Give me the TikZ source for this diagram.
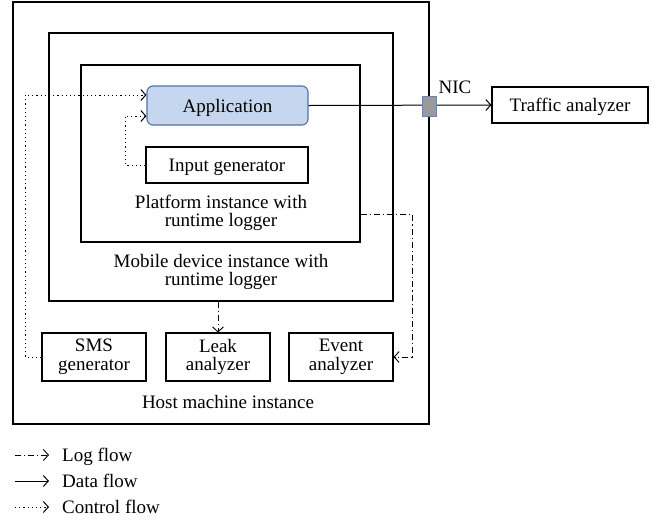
\documentclass[tikz,border=0pt]{standalone}
\usepackage{fontspec}
\setmainfont{Liberation Serif}
\usetikzlibrary{arrows.meta}
\definecolor{appfill}{HTML}{C6D6EE}
\definecolor{appline}{HTML}{4F71A6}
\definecolor{nicfill}{HTML}{9A9A9A}
\definecolor{nicline}{HTML}{6F85A8}
\begin{document}
\begin{tikzpicture}[x=1pt,y=-1pt,
  txt/.style={font=\fontsize{19}{18.5}\selectfont, align=center, inner sep=0pt},
  oneline/.style={text height=14.5pt, text depth=1.5pt},
  box/.style={draw, line width=1.1pt, inner sep=0pt, txt},
  frame/.style={draw, line width=1.2pt, inner sep=0pt},
  tip/.style={-{Straight Barb[length=5pt,width=11pt]}},
  logf/.style={tip, line width=0.9pt, dash pattern=on 6pt off 3pt on 1.2pt off 3pt},
  dataf/.style={tip, line width=1pt},
  ctrlf/.style={tip, line width=1pt, dash pattern=on 1.2pt off 3pt},
]
\useasboundingbox (0,0) rectangle (663,523);

% nested containers
\node[frame, minimum width=416pt, minimum height=422pt] (host) at (221,213) {};
\node[frame, minimum width=344pt, minimum height=268pt] (mobile) at (221,167) {};
\node[frame, minimum width=279pt, minimum height=177pt] (platform) at (220.5,153.5) {};

% container captions
\node[txt] (platlbl) at (221,213) {Platform instance with\\runtime logger};
\node[txt] (moblbl) at (221,272) {Mobile device instance with\\runtime logger};
\node[txt, oneline] (hostlbl) at (228,402) {Host machine instance};

% components
\node[box, oneline, draw=appline, fill=appfill, rounded corners=6pt,
      minimum width=161pt, minimum height=39pt] (app) at (227.5,105.5) {Application};
\node[box, oneline, minimum width=162pt, minimum height=36pt] (input) at (227,165) {Input generator};
\node[box, oneline, minimum width=156pt, minimum height=36pt] (traffic) at (570,105) {Traffic analyzer};
\node[box, minimum width=104pt, minimum height=48pt] (sms) at (94,357) {SMS\\generator};
\node[box, minimum width=104pt, minimum height=48pt] (leak) at (218,357) {Leak\\analyzer};
\node[box, minimum width=104pt, minimum height=48pt] (event) at (341,357) {Event\\analyzer};

% data flow through the network interface
\draw[dataf] (app.east) -- (traffic.west);
\node[draw=nicline, fill=nicfill, line width=1pt, minimum width=14pt, minimum height=20pt,
      inner sep=0pt] (nic) at (429,106) {};
\node[txt, oneline] (niclbl) at (455,87) {NIC};

% log flows
\draw[logf] (mobile.south -| leak.north) -- (leak.north);
\coordinate (lf) at (412,214);
\draw[logf] (platform.east |- lf) -- (lf) |- (event.east);

% control flows
\coordinate (c1) at (25,95);
\draw[ctrlf] (sms.west) -| (c1) -- (c1 -| app.west);
\coordinate (c2) at (125,116);
\draw[ctrlf] (input.west) -| (c2) -- (c2 -| app.west);

% legend
\node[txt, anchor=base west] (lt1) at (62,461) {Log flow};
\node[txt, anchor=base west] (lt2) at (62,487) {Data flow};
\node[txt, anchor=base west] (lt3) at (62,513) {Control flow};
\coordinate (ls1) at (15,455);
\coordinate (ls2) at (15,481);
\coordinate (ls3) at (15,507);
\draw[logf] (ls1) -- (ls1 -| 49,0);
\draw[dataf] (ls2) -- (ls2 -| 49,0);
\draw[ctrlf] (ls3) -- (ls3 -| 49,0);
\end{tikzpicture}
\end{document}
